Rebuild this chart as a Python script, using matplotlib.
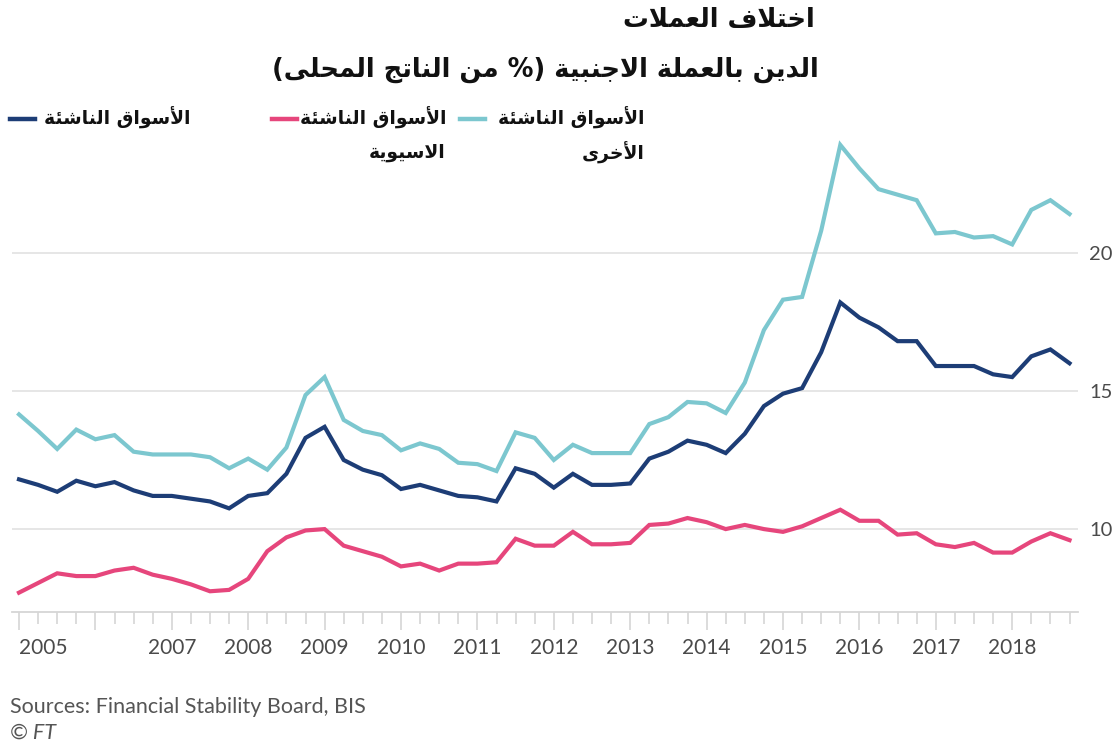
import matplotlib
matplotlib.use("Agg")
import matplotlib.pyplot as plt
from matplotlib.lines import Line2D
import numpy as np

# ---------------- data ----------------
start_year = 2005
quarters = 56  # 2005Q1 .. 2018Q4
x_years = [2005 + 0.25 * i for i in range(quarters)]

other_em = [14.15, 13.55, 12.9, 13.6, 13.25, 13.4, 12.8, 12.7, 12.7, 12.7,
            12.6, 12.2, 12.55, 12.15, 12.95, 14.85, 15.5, 13.95, 13.55, 13.4,
            12.85, 13.1, 12.9, 12.4, 12.35, 12.1, 13.5, 13.3, 12.5, 13.05,
            12.75, 12.75, 12.75, 13.8, 14.05, 14.6, 14.55, 14.2, 15.3, 17.2,
            18.3, 18.4, 20.8, 23.9, 23.05, 22.3, 22.1, 21.9, 20.7, 20.75,
            20.55, 20.6, 20.3, 21.55, 21.9, 21.4]
em_total = [11.8, 11.6, 11.35, 11.75, 11.55, 11.7, 11.4, 11.2, 11.2, 11.1,
            11.0, 10.75, 11.2, 11.3, 12.0, 13.3, 13.7, 12.5, 12.15, 11.95,
            11.45, 11.6, 11.4, 11.2, 11.15, 11.0, 12.2, 12.0, 11.5, 12.0,
            11.6, 11.6, 11.65, 12.55, 12.8, 13.2, 13.05, 12.75, 13.45, 14.45,
            14.9, 15.1, 16.4, 18.2, 17.65, 17.3, 16.8, 16.8, 15.9, 15.9,
            15.9, 15.6, 15.5, 16.25, 16.5, 16.0]
asian_em = [7.7, 8.05, 8.4, 8.3, 8.3, 8.5, 8.6, 8.35, 8.2, 8.0,
            7.75, 7.8, 8.2, 9.2, 9.7, 9.95, 10.0, 9.4, 9.2, 9.0,
            8.65, 8.75, 8.5, 8.75, 8.75, 8.8, 9.65, 9.4, 9.4, 9.9,
            9.45, 9.45, 9.5, 10.15, 10.2, 10.4, 10.25, 10.0, 10.15, 10.0,
            9.9, 10.1, 10.4, 10.7, 10.3, 10.3, 9.8, 9.85, 9.45, 9.35,
            9.5, 9.15, 9.15, 9.55, 9.85, 9.6]

year_ticks = list(range(2005, 2019))
year_labels = [str(y) if y != 2006 else "" for y in year_ticks]
y_ticks = [10, 15, 20]

title = "اختلاف العملات"
subtitle = "الدين بالعملة الاجنبية (% من الناتج المحلى)"
legend_names = ["الأسواق الناشئة", "الأسواق الناشئة\nالاسيوية", "الأسواق الناشئة\nالأخرى"]
source = "Sources: Financial Stability Board, BIS"
credit = "© FT"

C_NAVY = "#1d3d76"
C_PINK = "#e6467c"
C_CYAN = "#7cc7cf"

# ---------------- minimal Arabic shaping (presentation forms) ----------------
_tab = [  # (char, first presentation code, number of forms)
    (0x0621, 0xFE80, 1), (0x0622, 0xFE81, 2), (0x0623, 0xFE83, 2), (0x0624, 0xFE85, 2),
    (0x0625, 0xFE87, 2), (0x0626, 0xFE89, 4), (0x0627, 0xFE8D, 2), (0x0628, 0xFE8F, 4),
    (0x0629, 0xFE93, 2), (0x062A, 0xFE95, 4), (0x062B, 0xFE99, 4), (0x062C, 0xFE9D, 4),
    (0x062D, 0xFEA1, 4), (0x062E, 0xFEA5, 4), (0x062F, 0xFEA9, 2), (0x0630, 0xFEAB, 2),
    (0x0631, 0xFEAD, 2), (0x0632, 0xFEAF, 2), (0x0633, 0xFEB1, 4), (0x0634, 0xFEB5, 4),
    (0x0635, 0xFEB9, 4), (0x0636, 0xFEBD, 4), (0x0637, 0xFEC1, 4), (0x0638, 0xFEC5, 4),
    (0x0639, 0xFEC9, 4), (0x063A, 0xFECD, 4), (0x0641, 0xFED1, 4), (0x0642, 0xFED5, 4),
    (0x0643, 0xFED9, 4), (0x0644, 0xFEDD, 4), (0x0645, 0xFEE1, 4), (0x0646, 0xFEE5, 4),
    (0x0647, 0xFEE9, 4), (0x0648, 0xFEED, 2), (0x0649, 0xFEEF, 2), (0x064A, 0xFEF1, 4),
]
FORMS = {chr(c): tuple(chr(s + k) for k in range(n)) for c, s, n in _tab}
LAMALEF = {"\u0622": ("\uFEF5", "\uFEF6"), "\u0623": ("\uFEF7", "\uFEF8"),
           "\u0625": ("\uFEF9", "\uFEFA"), "\u0627": ("\uFEFB", "\uFEFC")}
MIRROR = {"(": ")", ")": "("}


def _shape(s):
    out = []
    i, n = 0, len(s)
    while i < n:
        c = s[i]
        if c not in FORMS:
            out.append(c)
            i += 1
            continue
        prev = s[i - 1] if i > 0 else ""
        cp = prev in FORMS and len(FORMS[prev]) == 4
        if c == "\u0644" and i + 1 < n and s[i + 1] in LAMALEF:
            iso, fin = LAMALEF[s[i + 1]]
            out.append(fin if cp else iso)
            i += 2
            continue
        nxt = s[i + 1] if i + 1 < n else ""
        f = FORMS[c]
        cn = len(f) == 4 and nxt in FORMS
        if len(f) == 1:
            out.append(f[0])
        elif cp and cn:
            out.append(f[3])
        elif cp:
            out.append(f[1])
        elif cn:
            out.append(f[2])
        else:
            out.append(f[0])
        i += 1
    return "".join(out)


def ar(s):
    return "\n".join("".join(MIRROR.get(ch, ch) for ch in reversed(_shape(line)))
                     for line in s.split("\n"))


# ---------------- figure ----------------
W, H = 1118, 747
fig = plt.figure(figsize=(W / 100, H / 100), dpi=100)
fig.patch.set_facecolor("white")


def fx(px):
    return px / W


def fy(py):
    return 1 - py / H


ax_l, ax_r, ax_t, ax_b = 12, 1078, 139.4, 612
ax = fig.add_axes([fx(ax_l), fy(ax_b), fx(ax_r - ax_l), (ax_b - ax_t) / H])

ax.plot(x_years, other_em, color=C_CYAN, lw=3.0, solid_joinstyle="miter", zorder=3)
ax.plot(x_years, asian_em, color=C_PINK, lw=3.0, solid_joinstyle="miter", zorder=3)
ax.plot(x_years, em_total, color=C_NAVY, lw=3.0, solid_joinstyle="miter", zorder=4)

ax.set_xlim(2005 - 7 / 76.4, 2018.75 + 8.5 / 76.4)
ax.set_ylim(7, 24.1)

for s in ["top", "left", "right"]:
    ax.spines[s].set_visible(False)
ax.spines["bottom"].set_color("#d6d6d6")
ax.spines["bottom"].set_linewidth(1.3)

ax.set_yticks(y_ticks)
ax.yaxis.tick_right()
ax.tick_params(axis="y", length=0, pad=8, labelsize=14.5, labelcolor="#4a4a4a")
for lab in ax.get_yticklabels():
    lab.set_fontfamily("Lato")
ax.grid(axis="y", color="#e6e6e6", lw=1.4)
ax.set_axisbelow(True)

ax.set_xticks(year_ticks)
ax.set_xticklabels(year_labels, fontfamily="Lato", fontsize=15, color="#4a4a4a")
ax.set_xticks([2005 + 0.25 * i for i in range(quarters)], minor=True)
ax.tick_params(axis="x", which="major", length=13, width=1.2, color="#d6d6d6", pad=6)
ax.tick_params(axis="x", which="minor", length=8.5, width=1.2, color="#d6d6d6")
ax.get_xticklabels()[0].set_horizontalalignment("left")

# ---------------- titles ----------------
AR_FONT = "DejaVu Sans"
fig.text(fx(815), fy(20), ar(title), ha="right", va="center", fontsize=18.5,
         fontweight="bold", family=AR_FONT, color="#111111")
fig.text(fx(819), fy(70), ar(subtitle), ha="right", va="center", fontsize=18.5,
         fontweight="bold", family=AR_FONT, color="#111111")

# ---------------- legend ----------------
leg = [
    (C_NAVY, 10, 190, legend_names[0]),
    (C_PINK, 272, 446, legend_names[1]),
    (C_CYAN, 460, 645, legend_names[2]),
]
for col, sx, tx, name in leg:
    fig.add_artist(Line2D([fx(sx), fx(sx + 25)], [fy(119), fy(119)], color=col, lw=3.2))
    lines = name.split("\n")
    for k, ln in enumerate(lines):
        fig.text(fx(tx), fy(118 + 35 * k), ar(ln), ha="right", va="center", fontsize=13.5,
                 fontweight="bold", family=AR_FONT, color="#111111")

# ---------------- footer ----------------
fig.text(fx(10), fy(707), source, ha="left", va="center", fontsize=15.5,
         family="Lato", color="#555555")
fig.text(fx(10), fy(733), credit, ha="left", va="center", fontsize=15.5,
         family="Lato", style="italic", color="#555555")

fig.savefig("out.png", dpi=100, facecolor="white")
